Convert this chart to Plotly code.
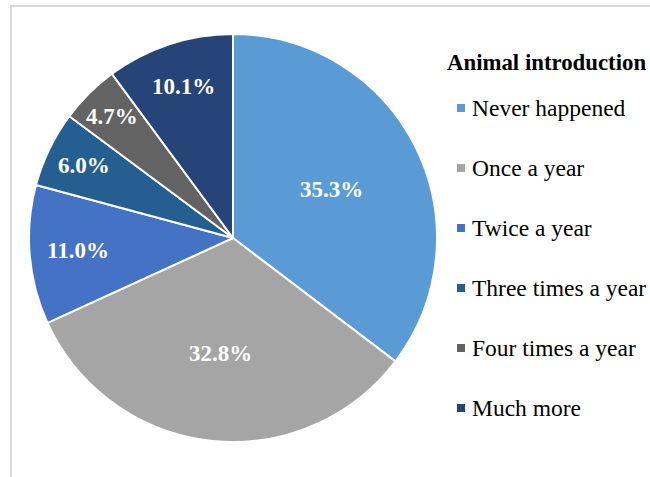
import math
import plotly.graph_objects as go

# Survey answers: how often animals are introduced
categories = ["Never happened", "Once a year", "Twice a year",
              "Three times a year", "Four times a year", "Much more"]
shares = [35.3, 32.8, 11.0, 6.0, 4.7, 10.1]
legend_title = "Animal introduction"

colors = ["#5B9BD5", "#A5A5A5", "#4472C4", "#255E91", "#636363", "#264478"]
# distance of each percentage label from the centre, as a fraction of the radius
label_radius = [0.54, 0.57, 0.76, 0.81, 0.84, 0.78]

W, H = 650, 477
cx, cy, R = 233, 238, 204   # pie centre and radius in pixels
SERIF = "Liberation Serif, Times New Roman, serif"

fig = go.Figure(go.Pie(
    labels=categories,
    values=shares,
    sort=False,
    direction="clockwise",
    rotation=0,
    marker=dict(colors=colors, line=dict(color="white", width=2)),
    textinfo="none",
    hoverinfo="label+percent",
    showlegend=False,
    domain=dict(x=[(cx - R) / W, (cx + R) / W],
                y=[1 - (cy + R) / H, 1 - (cy - R) / H]),
))

annotations = []
shapes = []

# percentage labels placed on each slice's mid angle
total = sum(shares)
cum = 0.0
for v, rf in zip(shares, label_radius):
    mid = (cum + v / 2) / total * 2 * math.pi
    cum += v
    px = cx + rf * R * math.sin(mid)
    py = cy - rf * R * math.cos(mid)
    annotations.append(dict(
        x=px / W, y=1 - py / H, xref="paper", yref="paper",
        text=f"<b>{v:.1f}%</b>", showarrow=False,
        xanchor="center", yanchor="middle",
        font=dict(family=SERIF, size=23, color="white"),
    ))

# legend: title, then one square marker and label per category
annotations.append(dict(
    x=445 / W, y=1 - 62 / H, xref="paper", yref="paper",
    text=f"<b>{legend_title}</b>", showarrow=False,
    xanchor="left", yanchor="middle",
    font=dict(family=SERIF, size=22.8, color="black"),
))
for i, (name, col) in enumerate(zip(categories, colors)):
    ly = 108 + 60 * i
    shapes.append(dict(
        type="rect", xref="paper", yref="paper",
        x0=457 / W, x1=465 / W, y0=1 - (ly + 4) / H, y1=1 - (ly - 4) / H,
        fillcolor=col, line=dict(width=0),
    ))
    annotations.append(dict(
        x=470 / W, y=1 - ly / H, xref="paper", yref="paper",
        text=name, showarrow=False, xanchor="left", yanchor="middle",
        font=dict(family=SERIF, size=23.5, color="black"),
    ))

# chart-area frame
shapes.append(dict(
    type="rect", xref="paper", yref="paper",
    x0=11 / W, x1=1.05, y0=-0.05, y1=1 - 6 / H,
    line=dict(color="#D9D9D9", width=2), fillcolor="rgba(0,0,0,0)",
    layer="below",
))

fig.update_layout(
    width=W, height=H,
    margin=dict(l=0, r=0, t=0, b=0),
    paper_bgcolor="white",
    plot_bgcolor="white",
    annotations=annotations,
    shapes=shapes,
)

fig.write_html("out.html")
